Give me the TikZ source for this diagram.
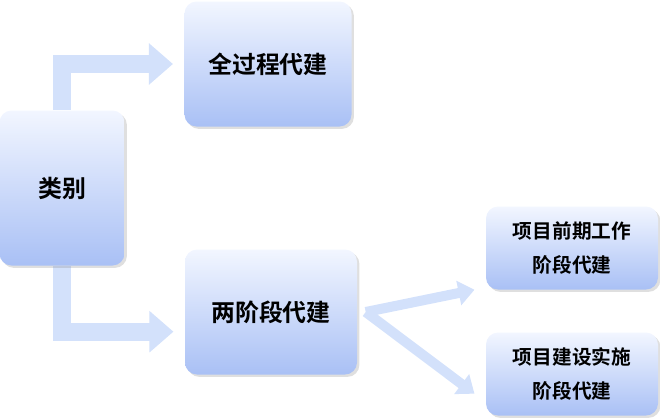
\documentclass[tikz,border=0pt]{standalone}
\usepackage{fontspec}
\setmainfont{Noto Sans CJK SC}[BoldFont={Noto Sans CJK SC Bold}]
\usetikzlibrary{positioning}
\usetikzlibrary{arrows.meta,shadows,backgrounds}
\definecolor{boxtop}{HTML}{F2F6FF}
\definecolor{boxbot}{HTML}{A9C0F5}
\definecolor{flow}{HTML}{D3E1FB}
\begin{document}
\begin{tikzpicture}
          [x=0.025cm, y=-0.025cm,
          Box/.style={rectangle, rounded corners=3mm, top color=boxtop, bottom color=boxbot, draw=none, drop shadow={opacity=0.25, shadow xshift=0.6mm, shadow yshift=-0.6mm}, font=\bfseries\fontsize{17pt}{20pt}\selectfont, align=center, inner sep=0pt},
          Small/.style={font=\bfseries\fontsize{14pt}{20pt}\selectfont},
          Flow/.style={draw=flow, line width=4.5mm, -{Triangle[length=6mm, width=10mm]}},
          Fan/.style={draw=flow, line width=2.5mm, -{Triangle[length=4mm, width=6mm]}},
          ]
          \useasboundingbox (0,0) rectangle (660,417);
          % Nodes
          \node[Box, minimum width=125*0.025cm, minimum height=155*0.025cm] (Cat) at (62, 188) {类别};
          \node[Box, minimum width=167*0.025cm, minimum height=125*0.025cm] (Whole) at (268, 64) {全过程代建};
          \node[Box, minimum width=172*0.025cm, minimum height=125*0.025cm] (Two) at (271, 312) {两阶段代建};
          \node[Box, Small, minimum width=172*0.025cm, minimum height=83*0.025cm] (Early) at (572, 248) {项目前期工作\\[4pt]阶段代建};
          \node[Box, Small, minimum width=172*0.025cm, minimum height=83*0.025cm] (Build) at (572, 374) {项目建设实施\\[4pt]阶段代建};

          % Lines
          \begin{scope}[on background layer]
          \path [Flow] (Cat.north) |- ([xshift=-8]Whole.west);
          \path [Flow] (Cat.south) |- ([xshift=-8, yshift=-14]Two.west);
          \path [Fan] ([xshift=6]Two.east) -- ([xshift=-8]Early.south west);
          \path [Fan] ([xshift=6]Two.east) -- ([xshift=-8, yshift=-14]Build.west);
          \end{scope}
          \end{tikzpicture}
\end{document}
